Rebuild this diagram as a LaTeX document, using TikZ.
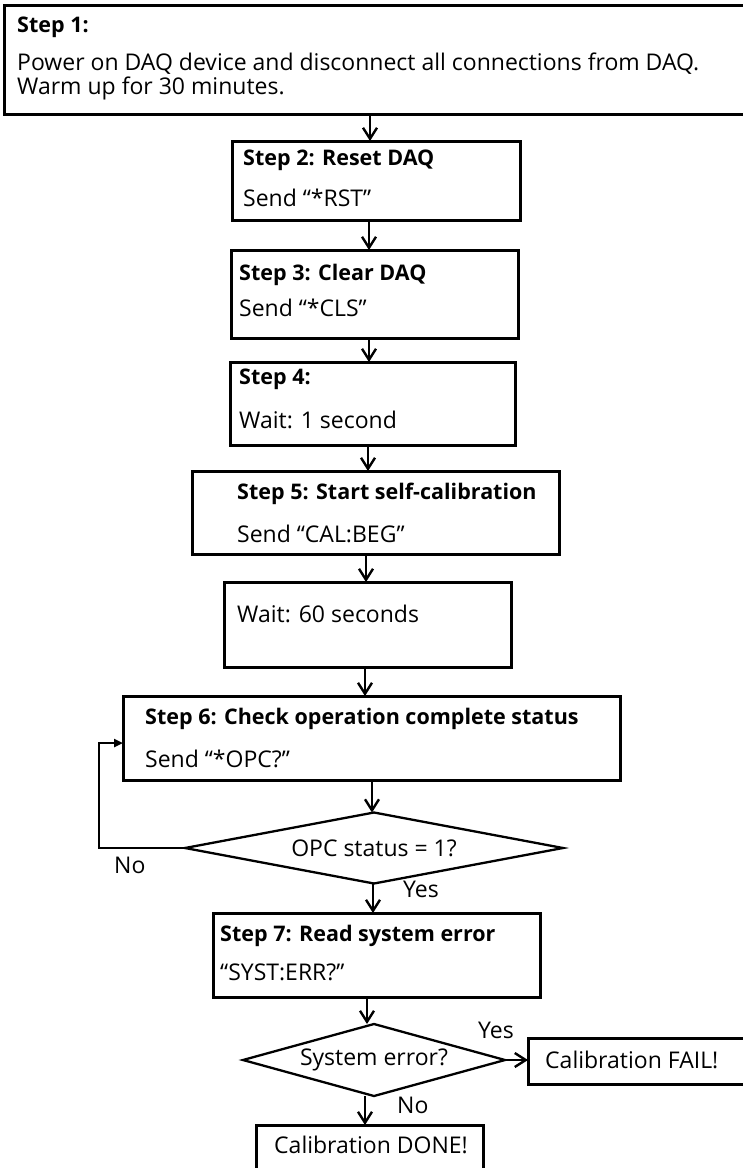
\documentclass[tikz,border=0pt]{standalone}
\usepackage{fontspec}
\setmainfont{Open Sans}
\usetikzlibrary{arrows.meta,shapes.geometric}
\begin{document}
\begin{tikzpicture}[x=1pt,y=-1pt,
  box/.style={draw,line width=3pt,rectangle,inner sep=0pt,outer sep=0pt,anchor=north west},
  dia/.style={draw,line width=2.3pt,diamond,inner sep=0pt,outer sep=0pt,font=\fontsize{23}{24}\selectfont},
  txt/.style={anchor=base west,inner sep=0pt,font=\fontsize{23}{24}\selectfont},
  btxt/.style={anchor=base west,inner sep=0pt,font=\fontsize{21.5}{24}\selectfont\bfseries},
  arr/.style={line width=2.6pt,-{Straight Barb[length=11pt,width=14pt,line width=2.4pt]}},
  looparr/.style={line width=2.6pt,-{Triangle[length=9pt,width=8pt]}},
]
\useasboundingbox (0,0) rectangle (743,1168);
\clip (0,0) rectangle (743,1168);
\fill[white] (0,0) rectangle (743,1168);

% boxes
\node[box,minimum width=800pt,minimum height=109pt] (s1) at (4,5) {};
\node[box,minimum width=288pt,minimum height=79pt] (s2) at (232,141) {};
\node[box,minimum width=287pt,minimum height=88pt] (s3) at (231,250) {};
\node[box,minimum width=285pt,minimum height=83pt] (s4) at (230,362) {};
\node[box,minimum width=367pt,minimum height=83pt] (s5) at (192,471) {};
\node[box,minimum width=287pt,minimum height=85pt] (w60) at (224,582) {};
\node[box,minimum width=497pt,minimum height=84pt] (s6) at (123,696) {};
\node[dia,minimum width=378pt,minimum height=71pt,aspect=5.3] (d1) at (374,848) {OPC status = 1?};
\node[box,minimum width=327pt,minimum height=84pt] (s7) at (213,913) {};
\node[dia,minimum width=262pt,minimum height=72pt,aspect=3.6] (d2) at (374,1060) {System error?};
\node[box,minimum width=300pt,minimum height=46pt] (fail) at (528,1038) {};
\node[box,minimum width=227pt,minimum height=100pt] (done) at (256,1125) {};

% texts
\node[btxt] (t1a) at (17,32) {Step 1:};
\node[txt] (t1b) at (17,70) {Power on DAQ device and disconnect all connections from DAQ.};
\node[txt] (t1c) at (17,94) {Warm up for 30 minutes.};
\node[btxt] (t2a) at (243,165) {Step 2: Reset DAQ};
\node[txt] (t2b) at (243,206) {Send “*RST”};
\node[btxt] (t3a) at (239,280) {Step 3: Clear DAQ};
\node[txt] (t3b) at (239,316) {Send “*CLS”};
\node[btxt] (t4a) at (239,384) {Step 4:};
\node[txt] (t4b) at (239,428) {Wait: 1 second};
\node[btxt] (t5a) at (237,499) {Step 5: Start self-calibration};
\node[txt] (t5b) at (237,542) {Send “CAL:BEG”};
\node[txt] (t60) at (237,622) {Wait: 60 seconds};
\node[btxt] (t6a) at (145,724) {Step 6: Check operation complete status};
\node[txt] (t6b) at (145,767) {Send “*OPC?”};
\node[btxt] (t7a) at (220,941) {Step 7: Read system error};
\node[txt] (t7b) at (220,980) {“SYST:ERR?”};
\node[txt] (tfail) at (545,1068) {Calibration FAIL!};
\node[txt] (tdone) at (274,1153) {Calibration DONE!};
\node[txt] (no1) at (114,873) {No};
\node[txt] (yes1) at (403,897) {Yes};
\node[txt] (yes2) at (478,1038) {Yes};
\node[txt] (no2) at (397,1113) {No};

% connector columns
\coordinate (c1) at (370,0);
\coordinate (c2) at (369,0);
\coordinate (c3) at (369,0);
\coordinate (c4) at (368,0);
\coordinate (c5) at (366,0);
\coordinate (c6) at (365,0);
\coordinate (c7) at (372,0);
\coordinate (c8) at (373,0);
\coordinate (c9) at (367,0);
\coordinate (c10) at (365,0);
\coordinate (lp) at (99,0);
\coordinate (ly) at (0,743);

\draw[arr] (s1.south -| c1) -- (s2.north -| c1);
\draw[arr] (s2.south -| c2) -- (s3.north -| c2);
\draw[arr] (s3.south -| c3) -- (s4.north -| c3);
\draw[arr] (s4.south -| c4) -- (s5.north -| c4);
\draw[arr] (s5.south -| c5) -- (w60.north -| c5);
\draw[arr] (w60.south -| c6) -- (s6.north -| c6);
\draw[arr] (s6.south -| c7) -- (d1.north -| c7);
\draw[arr] (d1.south -| c8) -- (s7.north -| c8);
\draw[arr] (s7.south -| c9) -- (d2.north -| c9);
\draw[arr] (d2.south -| c10) -- (done.north -| c10);
\draw[arr] (d2.east) -- (fail.west |- d2.east);
\draw[looparr] (d1.west) -- (d1.west -| lp) -- (lp |- ly) -- (s6.west |- ly);
\end{tikzpicture}
\end{document}
